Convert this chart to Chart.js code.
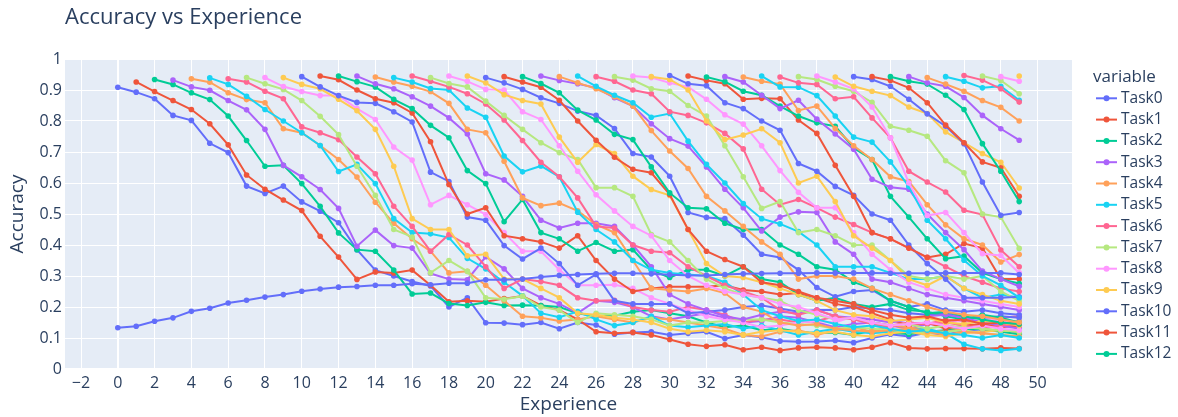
<!DOCTYPE html>
<html>
<head>
<meta charset="utf-8">
<title>Accuracy vs Experience</title>
<script src="https://cdn.jsdelivr.net/npm/chart.js@4.4.1/dist/chart.umd.min.js"></script>
<style>
  html, body { margin: 0; padding: 0; background: #ffffff; }
  canvas { display: block; }
</style>
</head>
<body>
<canvas id="chart" width="1178" height="417"></canvas>
<script>
// Accuracy of each task, starting at the experience where the task is introduced
const task0 = [0.909,0.893,0.872,0.818,0.802,0.728,0.698,0.590,0.566,0.590,
  0.539,0.509,0.472,0.385,0.319,0.300,0.282,0.268,0.200,0.230,
  0.149,0.148,0.143,0.150,0.130,0.150,0.142,0.112,0.118,0.120,
  0.110,0.115,0.120,0.098,0.110,0.102,0.090,0.088,0.089,0.092,
  0.085,0.100,0.112,0.105,0.118,0.110,0.125,0.120,0.130,0.115];
const task1 = [0.926,0.895,0.866,0.837,0.791,0.723,0.626,0.580,0.545,
  0.511,0.428,0.361,0.289,0.313,0.310,0.319,0.270,0.217,0.220,
  0.217,0.227,0.235,0.205,0.190,0.160,0.120,0.115,0.118,0.110,
  0.095,0.080,0.073,0.078,0.062,0.070,0.060,0.068,0.070,0.068,
  0.062,0.070,0.085,0.068,0.065,0.066,0.066,0.065,0.068,0.066];
const task2 = [0.934,0.918,0.891,0.869,0.816,0.737,0.654,0.657,
  0.598,0.525,0.439,0.385,0.380,0.319,0.242,0.245,0.211,0.205,
  0.215,0.205,0.206,0.205,0.200,0.180,0.170,0.172,0.185,0.190,
  0.180,0.170,0.150,0.135,0.140,0.125,0.130,0.120,0.115,0.118,
  0.110,0.125,0.118,0.112,0.120,0.125,0.130,0.128,0.120,0.112];
const task3 = [0.932,0.910,0.899,0.866,0.836,0.773,0.657,
  0.620,0.579,0.518,0.396,0.448,0.398,0.390,0.308,0.290,0.288,
  0.362,0.323,0.260,0.230,0.210,0.180,0.220,0.215,0.200,0.170,
  0.160,0.170,0.180,0.165,0.150,0.155,0.170,0.165,0.150,0.135,
  0.145,0.150,0.140,0.130,0.145,0.140,0.130,0.140,0.145,0.135];
const task4 = [0.936,0.925,0.891,0.869,0.859,0.775,
  0.762,0.721,0.676,0.619,0.538,0.470,0.420,0.380,0.310,0.315,
  0.270,0.220,0.170,0.165,0.155,0.160,0.170,0.160,0.150,0.165,
  0.160,0.150,0.140,0.130,0.110,0.105,0.120,0.125,0.110,0.125,
  0.135,0.120,0.140,0.135,0.125,0.120,0.130,0.140,0.150,0.155];
const task5 = [0.939,0.918,0.880,0.837,0.800,
  0.762,0.721,0.637,0.660,0.598,0.485,0.440,0.436,0.424,0.357,
  0.323,0.280,0.236,0.180,0.167,0.185,0.160,0.140,0.150,0.170,
  0.140,0.135,0.140,0.145,0.130,0.140,0.125,0.110,0.120,0.130,
  0.120,0.115,0.120,0.125,0.130,0.115,0.080,0.065,0.060,0.065];
const task6 = [0.936,0.926,0.896,0.872,
  0.781,0.762,0.740,0.684,0.630,0.525,0.460,0.380,0.434,0.400,
  0.330,0.260,0.290,0.282,0.270,0.230,0.220,0.222,0.200,0.190,
  0.185,0.200,0.190,0.175,0.150,0.160,0.160,0.150,0.155,0.170,
  0.160,0.145,0.135,0.150,0.145,0.160,0.155,0.150,0.165,0.170];
const task7 = [0.940,0.920,0.902,
  0.866,0.815,0.756,0.654,0.560,0.450,0.426,0.310,0.350,0.315,
  0.230,0.225,0.235,0.200,0.190,0.150,0.180,0.175,0.170,0.160,
  0.140,0.150,0.150,0.155,0.160,0.160,0.150,0.145,0.140,0.130,
  0.135,0.130,0.125,0.120,0.115,0.120,0.125,0.115,0.110,0.105];
const task8 = [0.940,0.911,
  0.895,0.882,0.882,0.840,0.805,0.716,0.674,0.530,0.560,0.530,
  0.498,0.440,0.380,0.380,0.320,0.270,0.270,0.272,0.260,0.230,
  0.210,0.190,0.170,0.160,0.150,0.135,0.140,0.150,0.155,0.150,
  0.170,0.160,0.155,0.145,0.150,0.145,0.160,0.165,0.155,0.150];
const task9 = [0.940,
  0.918,0.904,0.870,0.833,0.773,0.654,0.485,0.450,0.450,0.365,
  0.370,0.290,0.290,0.260,0.230,0.180,0.175,0.165,0.160,0.150,
  0.130,0.120,0.125,0.120,0.110,0.120,0.125,0.120,0.115,0.120,
  0.110,0.105,0.115,0.120,0.110,0.105,0.115,0.120,0.125,0.120];
const task10 = [0.943,0.910,0.882,0.860,0.857,0.830,0.797,0.635,0.605,0.490,
  0.480,0.398,0.355,0.390,0.340,0.270,0.305,0.220,0.210,0.210,
  0.210,0.180,0.185,0.190,0.200,0.205,0.195,0.185,0.190,0.190,
  0.200,0.195,0.190,0.180,0.175,0.180,0.165,0.165,0.170,0.165];
const task11 = [0.945,0.933,0.900,0.872,0.859,0.826,0.733,0.595,0.500,
  0.520,0.430,0.420,0.410,0.390,0.430,0.350,0.290,0.250,0.260,
  0.265,0.265,0.265,0.270,0.255,0.250,0.240,0.245,0.230,0.210,
  0.200,0.180,0.160,0.140,0.150,0.130,0.140,0.145,0.135,0.140];
const task12 = [0.945,0.927,0.910,0.870,0.840,0.786,0.746,0.640,
  0.598,0.475,0.547,0.440,0.420,0.380,0.408,0.380,0.385,0.320,
  0.295,0.320,0.320,0.300,0.330,0.290,0.280,0.240,0.220,0.230,
  0.210,0.200,0.210,0.190,0.185,0.170,0.160,0.175,0.165,0.150];
const task13 = [0.945,0.920,0.904,0.878,0.848,0.810,0.758,
  0.630,0.610,0.557,0.480,0.455,0.470,0.470,0.460,0.400,0.330,
  0.240,0.210,0.190,0.170,0.160,0.175,0.185,0.180,0.190,0.170,
  0.165,0.160,0.150,0.160,0.170,0.175,0.165,0.150,0.140,0.130];
const task14 = [0.942,0.926,0.912,0.895,0.857,0.773,
  0.762,0.670,0.552,0.527,0.535,0.510,0.466,0.440,0.350,0.260,
  0.255,0.250,0.260,0.245,0.200,0.185,0.150,0.140,0.145,0.130,
  0.125,0.120,0.125,0.130,0.120,0.110,0.120,0.115,0.110,0.105];
const task15 = [0.940,0.926,0.905,0.900,0.842,0.812,0.687,0.636,0.655,0.620,
  0.506,0.450,0.410,0.350,0.320,0.310,0.305,0.300,0.280,0.240,
  0.190,0.170,0.155,0.160,0.145,0.135,0.140,0.130,0.120,0.125,
  0.115,0.110,0.100,0.110,0.100];
const task16 = [0.945,0.928,0.910,0.888,0.855,0.803,0.737,0.667,0.620,0.552,
  0.460,0.455,0.400,0.380,0.375,0.330,0.300,0.270,0.250,0.230,
  0.190,0.175,0.190,0.170,0.160,0.150,0.140,0.150,0.145,0.150,
  0.140,0.130,0.140,0.145];
const task17 = [0.940,0.921,0.910,0.864,0.818,0.773,0.730,0.698,0.676,0.585,
  0.585,0.557,0.434,0.410,0.350,0.290,0.260,0.240,0.230,0.220,
  0.190,0.175,0.160,0.165,0.150,0.140,0.145,0.130,0.140,0.135,
  0.130,0.125,0.120];
const task18 = [0.945,0.928,0.902,0.900,0.830,0.805,0.720,0.638,0.562,0.510,
  0.460,0.430,0.350,0.300,0.270,0.250,0.240,0.230,0.210,0.200,
  0.180,0.160,0.165,0.150,0.140,0.145,0.150,0.140,0.130,0.140,
  0.130,0.125];
const task19 = [0.945,0.923,0.885,0.866,0.855,0.748,0.667,0.724,0.695,0.622,
  0.579,0.560,0.450,0.340,0.300,0.295,0.280,0.260,0.240,0.220,
  0.190,0.175,0.170,0.155,0.160,0.165,0.150,0.145,0.155,0.150,
  0.140];
const task20 = [0.940,0.923,0.902,0.875,0.857,0.832,0.818,0.776,0.695,0.684,
  0.622,0.505,0.489,0.485,0.432,0.370,0.360,0.320,0.263,0.233,
  0.250,0.255,0.220,0.200,0.210,0.190,0.185,0.190,0.180,0.175];
const task21 = [0.943,0.926,0.909,0.867,0.800,0.738,0.683,0.644,0.633,0.563,
  0.450,0.380,0.353,0.330,0.280,0.270,0.250,0.230,0.220,0.210,
  0.190,0.175,0.165,0.170,0.155,0.160,0.145,0.150,0.145];
const task22 = [0.943,0.921,0.891,0.835,0.803,0.757,0.740,0.652,0.568,0.520,
  0.517,0.470,0.450,0.450,0.400,0.370,0.330,0.320,0.280,0.260,
  0.220,0.200,0.180,0.185,0.170,0.160,0.150,0.145];
const task23 = [0.945,0.931,0.920,0.907,0.875,0.848,0.791,0.743,0.719,0.652,
  0.580,0.520,0.445,0.490,0.507,0.505,0.410,0.370,0.290,0.280,
  0.260,0.240,0.230,0.220,0.210,0.200,0.190];
const task24 = [0.943,0.923,0.904,0.878,0.848,0.769,0.703,0.647,0.557,0.510,
  0.460,0.410,0.370,0.290,0.300,0.300,0.290,0.260,0.240,0.220,
  0.200,0.185,0.175,0.170,0.160,0.150];
const task25 = [0.945,0.912,0.883,0.859,0.812,0.824,0.735,0.660,0.600,0.534,
  0.485,0.468,0.443,0.400,0.330,0.330,0.330,0.310,0.290,0.290,
  0.300,0.260,0.230,0.240,0.230];
const task26 = [0.943,0.928,0.900,0.888,0.830,0.818,0.794,0.760,0.710,0.580,
  0.530,0.547,0.520,0.490,0.466,0.440,0.420,0.390,0.360,0.330,
  0.300,0.280,0.260,0.250];
const task27 = [0.943,0.932,0.904,0.896,0.850,0.816,0.720,0.620,0.518,0.540,
  0.440,0.450,0.430,0.400,0.400,0.350,0.300,0.290,0.300,0.290,
  0.300,0.250,0.220];
const task28 = [0.945,0.940,0.923,0.910,0.870,0.820,0.790,0.720,0.640,0.570,
  0.520,0.520,0.440,0.370,0.320,0.280,0.260,0.240,0.230,0.220,
  0.210,0.200];
const task29 = [0.943,0.934,0.900,0.800,0.740,0.755,0.775,0.730,0.600,0.622,
  0.540,0.430,0.390,0.350,0.290,0.270,0.300,0.260,0.240,0.220,0.210];
const task30 = [0.947,0.920,0.914,0.859,0.840,0.800,0.770,0.663,0.638,0.589,
  0.560,0.500,0.480,0.400,0.340,0.290,0.230,0.230,0.230,0.233];
const task31 = [0.945,0.931,0.920,0.870,0.873,0.872,0.803,0.760,0.657,0.557,
  0.440,0.420,0.390,0.360,0.370,0.405,0.390,0.290,0.290];
const task32 = [0.942,0.927,0.896,0.883,0.848,0.816,0.794,0.783,0.713,0.676,
  0.557,0.490,0.420,0.356,0.364,0.310,0.290,0.276];
const task33 = [0.943,0.926,0.883,0.840,0.867,0.806,0.758,0.709,0.612,0.586,
  0.580,0.500,0.440,0.385,0.316,0.290,0.267];
const task34 = [0.942,0.928,0.919,0.834,0.848,0.776,0.720,0.676,0.620,0.605,
  0.530,0.465,0.420,0.400,0.345,0.369];
const task35 = [0.945,0.910,0.909,0.882,0.816,0.748,0.732,0.668,0.589,0.480,
  0.420,0.351,0.300,0.270,0.230];
const task36 = [0.942,0.923,0.918,0.872,0.878,0.810,0.746,0.638,0.603,0.571,
  0.512,0.498,0.384,0.330];
const task37 = [0.943,0.934,0.912,0.896,0.860,0.783,0.770,0.751,0.672,0.633,
  0.500,0.490,0.389];
const task38 = [0.945,0.926,0.904,0.845,0.746,0.600,0.495,0.505,0.440,0.372,
  0.366,0.310];
const task39 = [0.942,0.912,0.896,0.882,0.845,0.824,0.765,0.730,0.695,0.667,0.584];
const task40 = [0.943,0.934,0.912,0.870,0.823,0.783,0.727,0.603,0.496,0.505];
const task41 = [0.943,0.931,0.907,0.859,0.787,0.730,0.668,0.649,0.557];
const task42 = [0.943,0.928,0.919,0.883,0.837,0.727,0.638,0.540];
const task43 = [0.943,0.923,0.912,0.876,0.818,0.775,0.738];
const task44 = [0.940,0.919,0.896,0.866,0.844,0.800];
const task45 = [0.943,0.928,0.907,0.912,0.867];
const task46 = [0.947,0.932,0.904,0.861];
const task47 = [0.945,0.931,0.888];
const task48 = [0.943,0.928];
const task49 = [0.945];

// Mean accuracy over all tasks after each experience
const meanAccuracy = [0.133,0.138,0.154,0.165,0.186,0.196,0.213,0.222,0.232,0.240,
  0.251,0.258,0.264,0.266,0.270,0.270,0.275,0.272,0.277,0.277,
  0.288,0.288,0.290,0.297,0.302,0.305,0.307,0.309,0.309,0.307,
  0.304,0.302,0.302,0.305,0.307,0.308,0.309,0.309,0.310,0.310,
  0.310,0.310,0.309,0.309,0.309,0.310,0.310,0.310,0.310,0.305];

const xTicks = [-2,0,2,4,6,8,10,12,14,16,18,20,22,24,26,28,30,32,34,36,38,40,42,44,46,48,50];
const yTicks = [0,0.1,0.2,0.3,0.4,0.5,0.6,0.7,0.8,0.9,1];
const legendShown = 13;

const palette = ['#636efa','#EF553B','#00cc96','#ab63fa','#FFA15A',
                 '#19d3f3','#FF6692','#B6E880','#FF97FF','#FECB52'];

const taskSeries = [task0,task1,task2,task3,task4,task5,task6,task7,task8,task9,
  task10,task11,task12,task13,task14,task15,task16,task17,task18,task19,
  task20,task21,task22,task23,task24,task25,task26,task27,task28,task29,
  task30,task31,task32,task33,task34,task35,task36,task37,task38,task39,
  task40,task41,task42,task43,task44,task45,task46,task47,task48,task49];

const FONT = "'Open Sans', verdana, arial, sans-serif";
const TEXT = '#2a3f5f';

function lineDataset(label, start, values, color, order) {
  return {
    label: label,
    data: values.map((v, i) => ({ x: start + i, y: v })),
    borderColor: color,
    backgroundColor: color,
    pointBackgroundColor: color,
    pointBorderWidth: 0,
    pointRadius: 2.8,
    borderWidth: 2,
    tension: 0,
    order: order
  };
}

const datasets = taskSeries.map((vals, k) =>
  lineDataset('Task' + k, k, vals, palette[k % palette.length], -k));
datasets.push(lineDataset('Mean', 0, meanAccuracy, palette[taskSeries.length % palette.length], -1000));

// Plot background, title, axis titles and the legend
const decorations = {
  id: 'decorations',
  beforeDraw(chart) {
    const { ctx, chartArea: a } = chart;
    ctx.save();
    ctx.fillStyle = '#E5ECF6';
    ctx.fillRect(a.left, a.top, a.right - a.left, a.bottom - a.top);
    ctx.restore();
  },
  afterDraw(chart) {
    const { ctx, chartArea: a } = chart;
    ctx.save();
    ctx.fillStyle = TEXT;
    ctx.textBaseline = 'alphabetic';
    ctx.textAlign = 'left';
    ctx.font = '22px ' + FONT;
    ctx.fillText('Accuracy vs Experience', 65, 24);

    ctx.font = '19px ' + FONT;
    ctx.textAlign = 'center';
    ctx.textBaseline = 'middle';
    ctx.fillText('Experience', (a.left + a.right) / 2, 405);
    ctx.save();
    ctx.translate(18, (a.top + a.bottom) / 2);
    ctx.rotate(-Math.PI / 2);
    ctx.fillText('Accuracy', 0, 0);
    ctx.restore();

    ctx.textAlign = 'left';
    ctx.font = '17px ' + FONT;
    ctx.fillText('variable', 1093, 77);
    ctx.font = '15.5px ' + FONT;
    for (let i = 0; i < legendShown; i++) {
      const ds = chart.data.datasets[i];
      const y = 98.3 + i * 21.3;
      ctx.strokeStyle = ds.borderColor;
      ctx.lineWidth = 2;
      ctx.beginPath();
      ctx.moveTo(1096, y);
      ctx.lineTo(1117, y);
      ctx.stroke();
      ctx.fillStyle = ds.borderColor;
      ctx.beginPath();
      ctx.arc(1106.5, y, 3, 0, Math.PI * 2);
      ctx.fill();
      ctx.fillStyle = TEXT;
      ctx.fillText(ds.label, 1121, y);
    }
    ctx.restore();
  }
};

new Chart(document.getElementById('chart'), {
  type: 'line',
  data: { datasets: datasets },
  plugins: [decorations],
  options: {
    responsive: false,
    animation: false,
    devicePixelRatio: 1,
    layout: { padding: { left: 0, right: 106, top: 59, bottom: 0 } },
    plugins: { legend: { display: false }, tooltip: { enabled: false }, title: { display: false } },
    scales: {
      x: {
        type: 'linear',
        min: -2.87,
        max: 51.87,
        afterFit(s) { s.height = 48; },
        afterBuildTicks(s) { s.ticks = xTicks.map(v => ({ value: v })); },
        border: { display: false },
        grid: {
          color: '#ffffff',
          lineWidth: c => (c.tick && c.tick.value === 0 ? 2 : 1),
          drawTicks: false
        },
        ticks: {
          color: TEXT,
          font: { family: FONT, size: 16 },
          padding: 5,
          maxRotation: 0,
          autoSkip: false,
          callback: v => (v < 0 ? '\u2212' + Math.abs(v) : String(v))
        }
      },
      y: {
        min: 0,
        max: 1,
        afterFit(s) { s.width = 65; },
        afterBuildTicks(s) { s.ticks = yTicks.map(v => ({ value: v })); },
        border: { display: false },
        grid: {
          color: '#ffffff',
          lineWidth: c => (c.tick && c.tick.value === 0 ? 2 : 1),
          drawTicks: false
        },
        ticks: {
          color: TEXT,
          font: { family: FONT, size: 16 },
          padding: 3,
          autoSkip: false,
          callback: v => String(Math.round(v * 10) / 10)
        }
      }
    }
  }
});
</script>
</body>
</html>
